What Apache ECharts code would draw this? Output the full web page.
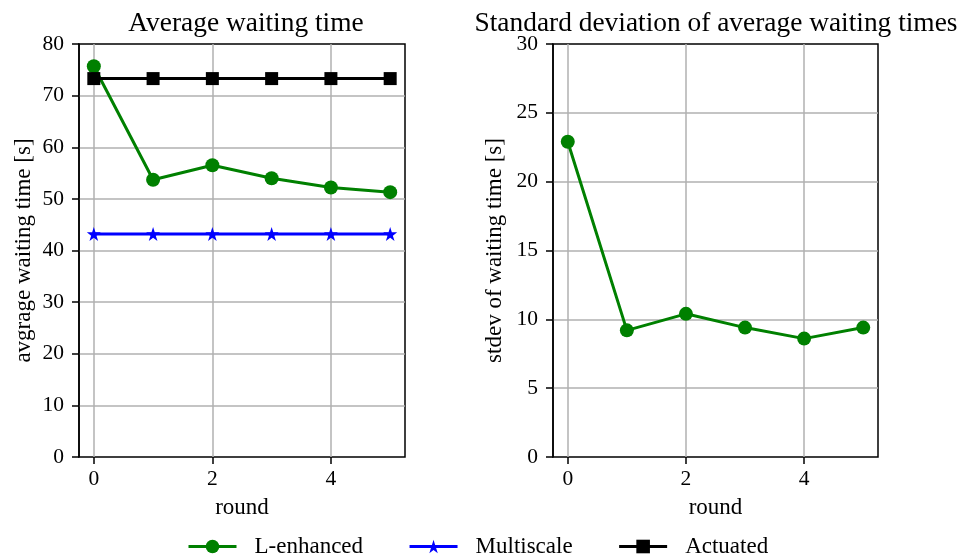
<!DOCTYPE html>
<html>
<head>
<meta charset="utf-8">
<script src="https://cdn.jsdelivr.net/npm/echarts@6/dist/echarts.min.js"></script>
<style>
  html, body { margin: 0; padding: 0; background: #fff; }
  #chart { width: 963px; height: 559px; }
</style>
</head>
<body>
<div id="chart"></div>
<script>
// Rounds of the experiment
const rounds = [0, 1, 2, 3, 4, 5];
// Average waiting time [s] per controller
const lEnhancedAvg = [75.7, 53.7, 56.5, 54.0, 52.2, 51.3];
const multiscaleAvg = [43.2, 43.2, 43.2, 43.2, 43.2, 43.2];
const actuatedAvg = [73.3, 73.3, 73.3, 73.3, 73.3, 73.3];
// Standard deviation of waiting times [s]
const lEnhancedStd = [22.9, 9.2, 10.4, 9.4, 8.6, 9.4];
// Tick labels
const xTicks = [0, 2, 4];
const avgTicks = [0, 10, 20, 30, 40, 50, 60, 70, 80];
const stdTicks = [0, 5, 10, 15, 20, 25, 30];

const FONT = 'Liberation Serif';
const GREEN = '#008000', BLUE = '#0000ff', BLACK = '#000000', GRIDC = '#b0b0b0';

// plot boxes (pixels) and data range of the x axis (with matplotlib-like margins)
const X_MIN = -0.25, X_MAX = 5.25;
const TOP = 44, BOTTOM = 457;
const boxes = [{ l: 79, r: 405 }, { l: 553, r: 878 }];
const W = 963, H = 559;

function px(box, v) {
  return box.l + (v - X_MIN) / (X_MAX - X_MIN) * (box.r - box.l);
}

const pair = (xs, ys) => xs.map((x, i) => [x, ys[i]]);

const starPath = 'path://M0,-1L0.2245,-0.309L0.951,-0.309L0.363,0.118L0.588,0.809L0,0.382L-0.588,0.809L-0.363,0.118L-0.951,-0.309L-0.2245,-0.309Z';

const grids = [];
const xAxes = [];
const yAxes = [];
boxes.forEach((b) => {
  // data box
  grids.push({ left: b.l, width: b.r - b.l, top: TOP, height: BOTTOM - TOP,
    show: true, borderColor: BLACK, borderWidth: 1.5, backgroundColor: 'transparent', containLabel: false });
  // tick grid, spanning the first to the last labelled round
  const l0 = px(b, xTicks[0]), l1 = px(b, xTicks[xTicks.length - 1]);
  grids.push({ left: l0, width: l1 - l0, top: TOP, height: BOTTOM - TOP, show: false, containLabel: false });
});

const tickLabelStyle = { fontFamily: FONT, fontSize: 21.5, color: '#000' };
const nameStyle = { fontFamily: FONT, fontSize: 23, color: '#000' };

[0, 1].forEach(k => {
  const gData = 2 * k, gTick = 2 * k + 1;
  xAxes.push({
    gridIndex: gData, type: 'value', min: X_MIN, max: X_MAX,
    axisLine: { show: false }, axisTick: { show: false }, axisLabel: { show: false },
    splitLine: { show: false },
    name: 'round', nameLocation: 'middle', nameGap: 39, nameTextStyle: nameStyle
  });
  xAxes.push({
    gridIndex: gTick, type: 'value', min: xTicks[0], max: xTicks[xTicks.length - 1], interval: 2,
    axisLine: { show: false, onZero: false },
    axisTick: { show: true, length: 7, lineStyle: { color: BLACK, width: 1.5 } },
    axisLabel: { show: true, margin: 11, ...tickLabelStyle },
    splitLine: { show: true, lineStyle: { color: GRIDC, width: 1.5 } }
  });
});

const yDefs = [
  { ticks: avgTicks, name: 'avgrage waiting time [s]', gap: 44 },
  { ticks: stdTicks, name: 'stdev of waiting time [s]', gap: 47 }
];
yDefs.forEach((d, k) => {
  yAxes.push({
    gridIndex: 2 * k, type: 'value', min: d.ticks[0], max: d.ticks[d.ticks.length - 1],
    interval: d.ticks[1] - d.ticks[0],
    axisLine: { show: true, onZero: false, lineStyle: { color: BLACK, width: 1.5 } },
    axisTick: { show: true, length: 7, lineStyle: { color: BLACK, width: 1.5 } },
    axisLabel: { show: true, margin: 15, ...tickLabelStyle },
    splitLine: { show: true, showMinLine: false, showMaxLine: false, lineStyle: { color: GRIDC, width: 1.5 } },
    name: d.name, nameLocation: 'middle', nameGap: d.gap, nameRotate: 90, nameTextStyle: nameStyle
  });
  yAxes.push({ gridIndex: 2 * k + 1, type: 'value', min: 0, max: 1, show: false });
});

function lineSeries(name, data, color, symbol, size, xi, yi, z) {
  return {
    name, type: 'line', data, xAxisIndex: xi, yAxisIndex: yi,
    symbol, symbolSize: size, showAllSymbol: true, z,
    lineStyle: { color, width: 3 },
    itemStyle: { color, borderWidth: 0 },
    emphasis: { disabled: true }, animation: false
  };
}

const titleStyle = { fontFamily: FONT, fontSize: 27.4, fontWeight: 'normal', color: '#000' };

const option = {
  animation: false,
  backgroundColor: '#fff',
  title: [
    { text: 'Average waiting time', left: 241, textAlign: 'center', top: 5, textStyle: titleStyle },
    { text: 'Standard deviation of average waiting times', left: 711, textAlign: 'center', top: 5, textStyle: titleStyle }
  ],
  legend: {
    top: 535, left: 187, padding: 0, itemWidth: 48, itemHeight: 17, itemGap: 45,
    lineStyle: { width: 3 },
    textStyle: { fontFamily: FONT, fontSize: 23, color: '#000', padding: [0, 0, 0, 13] },
    data: ['L-enhanced', 'Multiscale', 'Actuated']
  },
  grid: grids,
  xAxis: xAxes,
  yAxis: yAxes,
  series: [
    lineSeries('L-enhanced', pair(rounds, lEnhancedAvg), GREEN, 'circle', 14, 0, 0, 3),
    lineSeries('Multiscale', pair(rounds, multiscaleAvg), BLUE, starPath, 14, 0, 0, 4),
    lineSeries('Actuated', pair(rounds, actuatedAvg), BLACK, 'rect', 13, 0, 0, 5),
    lineSeries('L-enhanced', pair(rounds, lEnhancedStd), GREEN, 'circle', 14, 2, 2, 3)
  ]
};

const chart = echarts.init(document.getElementById('chart'), null, { renderer: 'canvas', width: W, height: H });
chart.setOption(option);
</script>
</body>
</html>
